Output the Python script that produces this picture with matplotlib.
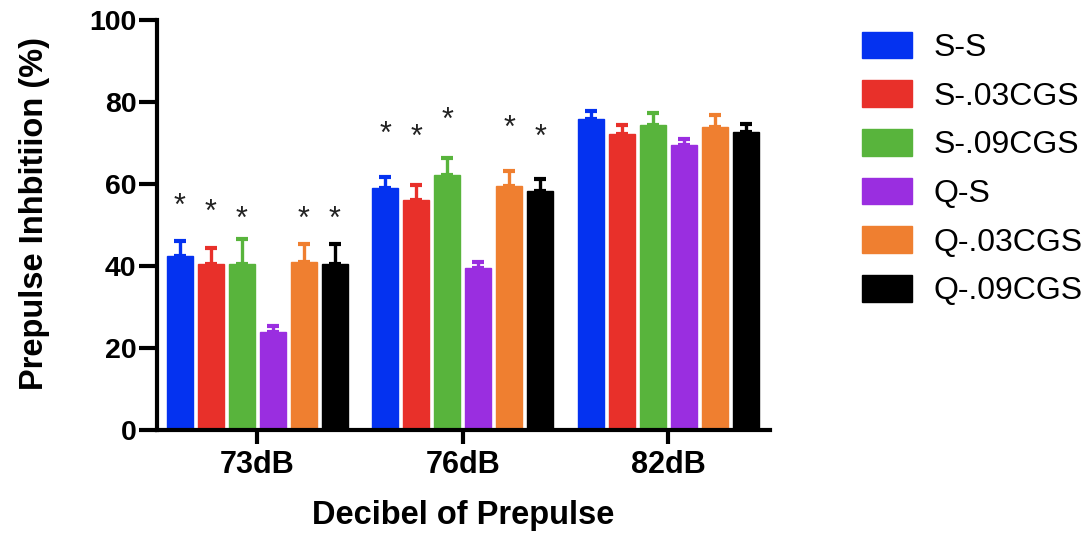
import matplotlib
matplotlib.use('Agg')
import matplotlib.pyplot as plt
import numpy as np

plt.rcParams['font.family'] = ['Liberation Sans', 'DejaVu Sans']

# Data
groups = ['73dB', '76dB', '82dB']
series = ['S-S', 'S-.03CGS', 'S-.09CGS', 'Q-S', 'Q-.03CGS', 'Q-.09CGS']
colors = ['#0432f0', '#e8302a', '#58b43c', '#9a2ee0', '#ef7f30', '#000000']

means = [
    [42.5, 59.0, 75.8],   # S-S
    [40.5, 56.2, 72.2],   # S-.03CGS
    [40.5, 62.3, 74.3],   # S-.09CGS
    [23.8, 39.5, 69.4],   # Q-S
    [41.0, 59.6, 73.8],   # Q-.03CGS
    [40.5, 58.2, 72.6],   # Q-.09CGS
]
errors = [
    [3.6, 2.7, 2.0],
    [3.9, 3.6, 2.1],
    [6.0, 4.1, 2.9],
    [1.5, 1.4, 1.5],
    [4.3, 3.6, 3.0],
    [4.8, 2.9, 2.0],
]
# height of significance asterisks (None = no star)
star_y = [
    [54.4, 72.0, None],
    [52.9, 71.2, None],
    [51.2, 75.4, None],
    [None, None, None],
    [51.2, 73.4, None],
    [51.2, 71.2, None],
]

fig = plt.figure(figsize=(10.91, 5.37), dpi=100)
ax = fig.add_axes([0.144, 0.199, 0.562, 0.764])

x = np.arange(len(groups))
pitch = 0.151
width = 0.127

for i, name in enumerate(series):
    pos = x + (i - 2.5) * pitch
    ax.bar(pos, means[i], width, color=colors[i], edgecolor=colors[i],
           linewidth=1, label=name, zorder=2)
    ax.errorbar(pos, means[i], yerr=[np.zeros(len(groups)), errors[i]],
                fmt='none', ecolor=colors[i], elinewidth=2.4, capsize=4,
                capthick=3, zorder=1)
    for j, sy in enumerate(star_y[i]):
        if sy is not None:
            ax.text(pos[j], sy, '*', ha='center', va='center',
                    fontsize=22, color='#222222')

ax.set_xlim(-0.487, 2.496)
ax.set_ylim(0, 100)
ax.set_yticks([0, 20, 40, 60, 80, 100])
ax.set_xticks(x)
ax.set_xticklabels(groups)

for s in ['top', 'right']:
    ax.spines[s].set_visible(False)
for s in ['left', 'bottom']:
    ax.spines[s].set_linewidth(3)
ax.tick_params(axis='y', width=3, length=13, pad=2, labelsize=20.5)
ax.tick_params(axis='x', width=3, length=10, pad=4, labelsize=22)
for lab in ax.get_xticklabels() + ax.get_yticklabels():
    lab.set_fontweight('bold')

ax.set_ylabel('Prepulse Inhbitiion (%)', fontsize=23.5, fontweight='bold')
ax.yaxis.set_label_coords(-0.175, 0.529)
ax.set_xlabel('Decibel of Prepulse', fontsize=23.5, fontweight='bold', labelpad=15)

fig.legend(loc='upper left', bbox_to_anchor=(0.790, 0.941), frameon=False,
           fontsize=23, handlelength=1.57, handleheight=0.91,
           handletextpad=0.66, labelspacing=0.54, borderpad=0,
           borderaxespad=0)

fig.savefig('out.png', dpi=100, facecolor='white')
